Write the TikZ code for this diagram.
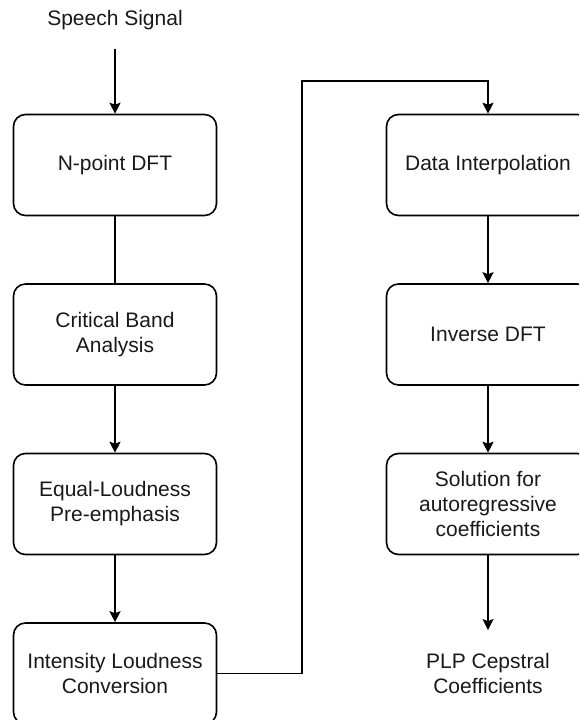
\documentclass[tikz,border=0pt]{standalone}
\usepackage{fontspec}
\setmainfont{Liberation Sans}
\usetikzlibrary{arrows.meta,positioning}
\tikzset{
  blokk/.style={draw,line width=1.6pt,rounded corners=12pt,minimum width=203pt,minimum height=101pt,
                align=center,inner sep=0pt},
  cimke/.style={align=center,inner sep=0pt},
  nyil/.style={-{Stealth[length=11pt,width=11pt,inset=2pt]},line width=1.6pt},
  vonal/.style={line width=1.6pt},
}
\begin{document}
\begin{tikzpicture}[x=1pt,y=-1pt,font=\fontsize{21}{25}\selectfont,text=black!90]
  \useasboundingbox (0,0) rectangle (579,720);
  \clip (0,0) rectangle (579,720);
  % bal oszlop
  \node[cimke] (jel) at (115,20) {Speech Signal};
  \node[blokk] (dft) at (115,165) {N-point DFT};
  \node[blokk] (cba) at (115,334.5) {Critical Band\\Analysis};
  \node[blokk] (elp) at (115,504) {Equal-Loudness\\Pre-emphasis};
  \node[blokk] (ilc) at (115,673.5) {Intensity Loudness\\Conversion};
  % jobb oszlop
  \node[blokk] (di) at (488,165) {Data Interpolation};
  \node[blokk] (idft) at (488,334.5) {Inverse DFT};
  \node[blokk] (ar) at (488,504) {Solution for\\autoregressive\\coefficients};
  \node[cimke] (plp) at (488,673.5) {PLP Cepstral\\Coefficients};
  \coordinate (kanyar) at (302,81);
  \draw[nyil,shorten <=19pt] (jel.south) -- (dft.north);
  \draw[vonal] (dft) -- (cba);
  \draw[nyil] (cba) -- (elp);
  \draw[nyil] (elp) -- (ilc);
  \draw[nyil] (ilc.east) -| (kanyar) -| (di.north);
  \draw[nyil] (di) -- (idft);
  \draw[nyil] (idft) -- (ar);
  \draw[nyil,shorten >=23pt] (ar.south) -- (plp.north);
\end{tikzpicture}
\end{document}
